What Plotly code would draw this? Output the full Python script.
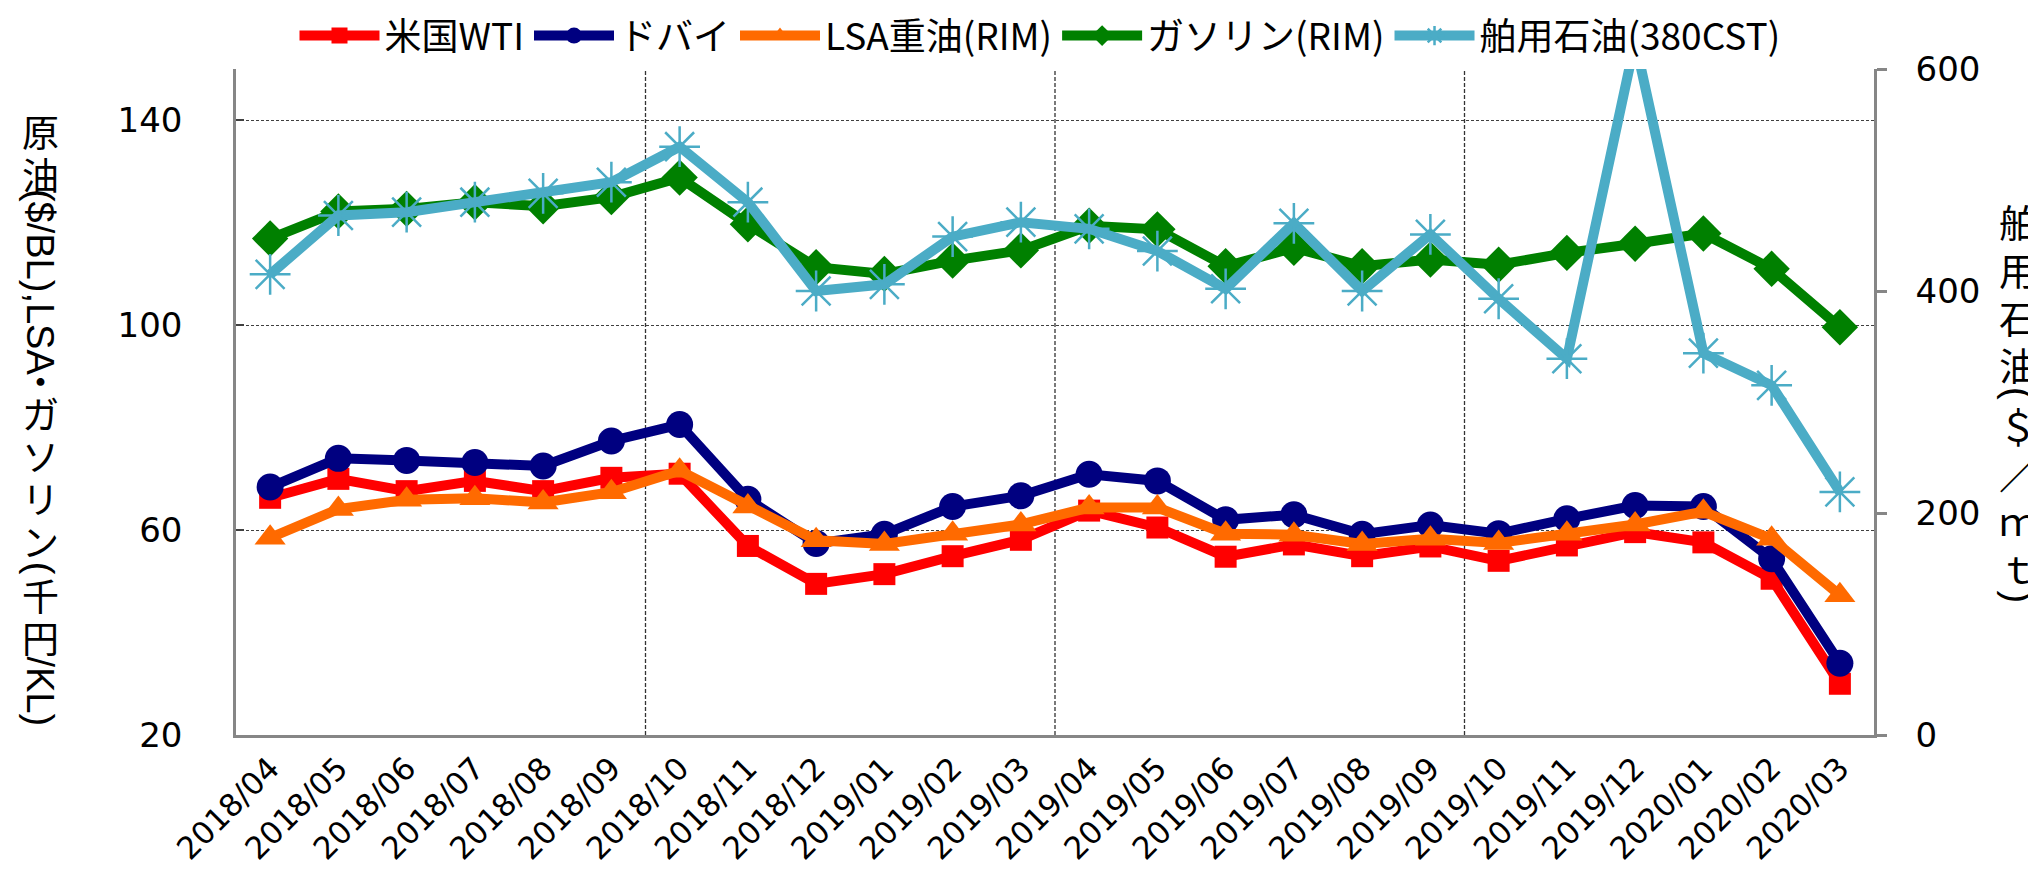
import plotly.graph_objects as go

# ---------------- data ----------------
months = ["2018/04", "2018/05", "2018/06", "2018/07", "2018/08", "2018/09",
          "2018/10", "2018/11", "2018/12", "2019/01", "2019/02", "2019/03",
          "2019/04", "2019/05", "2019/06", "2019/07", "2019/08", "2019/09",
          "2019/10", "2019/11", "2019/12", "2020/01", "2020/02", "2020/03"]

wti = [66.3, 70.0, 67.6, 69.6, 67.6, 70.2, 71.0, 56.9, 49.5, 51.4, 54.9, 58.1,
       63.8, 60.5, 54.8, 57.2, 54.9, 56.8, 54.0, 57.0, 59.6, 57.6, 50.5, 30.0]
dubai = [68.4, 74.0, 73.6, 73.2, 72.5, 77.4, 80.6, 66.0, 57.4, 59.2, 64.6, 66.7,
         70.9, 69.6, 62.0, 63.0, 59.2, 61.0, 59.3, 62.2, 64.8, 64.6, 54.4, 34.0]
lsa = [58.5, 64.1, 65.9, 66.2, 65.4, 67.4, 71.6, 64.6, 58.0, 57.3, 59.3, 61.1,
       64.4, 64.4, 59.3, 59.1, 57.3, 58.3, 57.5, 59.3, 61.1, 63.6, 58.3, 47.3]
gasoline = [116.9, 122.2, 122.7, 124.0, 123.2, 125.0, 128.8, 119.7, 111.3, 110.0,
            112.6, 114.6, 119.4, 118.7, 111.5, 115.1, 111.5, 112.8, 111.8, 114.1,
            115.9, 117.9, 111.0, 99.6]
marine = [415, 468, 471, 480, 488, 498, 530, 480, 400, 406, 449, 462,
          456, 436, 402, 461, 400, 451, 393, 339, 625, 344, 315, 219]

names = ["米国WTI", "ドバイ", "LSA重油(RIM)", "ガソリン(RIM)", "舶用石油(380CST)"]
y_ticks_left = [20, 60, 100, 140]
y_ticks_right = [0, 200, 400, 600]
# vertical axis titles: (text, rotated?) segments, read top to bottom
left_title = [("原", False), ("油", False), ("($/BL),LSA", True), ("・", False),
              ("ガ", False), ("ソ", False), ("リ", False), ("ン", False),
              ("(", True), ("千", False), ("円", False), ("/KL)", True)]
right_title = [("舶", False), ("用", False), ("石", False), ("油", False), ("(", True),
               ("＄", False), ("／", False), ("ｍ", False), ("ｔ", False), (")", True)]

# ---------------- layout constants ----------------
W, H = 2036, 869
PL, PR, PT, PB = 228, 1866, 61, 727
PW, PH = PR - PL, PB - PT

LAT = "Liberation Sans Narrow, Noto Sans CJK JP, sans-serif"
CJK = "Noto Sans CJK JP, sans-serif"
NARROW = "Liberation Sans Narrow, Liberation Sans, sans-serif"
TICKF = "DejaVu Sans, sans-serif"

fig = go.Figure()

styles = [
    dict(color="#FF0000", symbol="square", size=22),
    dict(color="#000080", symbol="circle", size=27),
    dict(color="#FF6A00", symbol="triangle-up", size=27),
    dict(color="#008000", symbol="diamond", size=28),
]
xs = list(range(len(months)))
for name, vals, st in zip(names[:4], [wti, dubai, lsa, gasoline], styles):
    fig.add_trace(go.Scatter(
        x=xs, y=vals, name=name, mode="lines+markers",
        line=dict(color=st["color"], width=10),
        marker=dict(symbol=st["symbol"], size=st["size"], color=st["color"]),
        yaxis="y"))

fig.add_trace(go.Scatter(
    x=xs, y=marine, name=names[4], mode="lines+markers",
    line=dict(color="#4BACC6", width=10),
    marker=dict(symbol="asterisk-open", size=34, color="#4BACC6",
                line=dict(color="#4BACC6", width=2.5)),
    yaxis="y2"))

# vertical dashed gridlines at category boundaries every 6 months
shapes = []
for i in range(6, len(months), 6):
    shapes.append(dict(type="line", xref="x", yref="paper", x0=i - 0.5, x1=i - 0.5,
                       y0=0, y1=1, line=dict(color="#333333", width=1.3, dash="4px,2px"),
                       layer="below"))

NARROW_W = {"(": 0.30, ")": 0.30, "$": 0.50, "/": 0.27, "B": 0.60, "L": 0.50,
            ",": 0.27, "S": 0.60, "A": 0.60, "K": 0.60}


def px_to_paper_y(py):
    return (PB - py) / PH


def vertical_text(segs, x_center_px, y_top_px, y_bot_px, size, lat_size):
    weights = []
    for t, rot in segs:
        if rot:
            weights.append(sum(NARROW_W.get(c, 0.55) for c in t) * lat_size / size)
        elif t == "・":
            weights.append(0.6)
        else:
            weights.append(1.12)
    unit = (y_bot_px - y_top_px) / sum(weights)
    anns = []
    cur = y_top_px
    for (t, rot), w in zip(segs, weights):
        yc = cur + w * unit / 2
        cur += w * unit
        anns.append(dict(
            text=t, showarrow=False, xref="paper", yref="paper",
            x=(x_center_px - PL) / PW, y=px_to_paper_y(yc),
            xanchor="center", yanchor="middle", borderpad=0,
            textangle=90 if rot else 0,
            font=dict(family=NARROW if rot else CJK, size=lat_size if rot else size,
                      color="#000000")))
    return anns


annotations = []
annotations += vertical_text(left_title, 32, 102, 716, 37, 38)
annotations += vertical_text(right_title, 2010, 189, 596, 38, 38)

fig.update_layout(
    width=W, height=H,
    margin=dict(l=PL, r=W - PR, t=PT, b=H - PB, pad=0),
    paper_bgcolor="white", plot_bgcolor="white",
    showlegend=True,
    legend=dict(orientation="h", xref="container", yref="container",
                x=1032 / W, xanchor="center",
                y=1 - 28 / H, yanchor="middle",
                font=dict(family=LAT, size=37, color="#000000"),
                bgcolor="rgba(0,0,0,0)", itemwidth=80),
    xaxis=dict(range=[-0.5, len(months) - 0.5], tickmode="array", tickvals=xs,
               ticktext=months, tickangle=-45, showgrid=False, zeroline=False,
               showline=True, linecolor="#868686", linewidth=2.5, ticks="",
               tickfont=dict(family=TICKF, size=31, color="#000000"),
               automargin=False),
    yaxis=dict(range=[20, 150], tickvals=y_ticks_left, showgrid=True,
               gridcolor="#404040", gridwidth=1.3, griddash="3px,2px",
               zeroline=False, showline=True, linecolor="#868686", linewidth=2.5,
               ticks="inside", ticklen=8, tickcolor="#404040", tickwidth=2,
               tickfont=dict(family=TICKF, size=34, color="#000000"),
               ticklabelstandoff=44, automargin=False),
    yaxis2=dict(range=[0, 600], tickvals=y_ticks_right, overlaying="y", side="right",
                showgrid=False, zeroline=False, showline=True, linecolor="#868686",
                linewidth=2.5, ticks="outside", ticklen=10, tickcolor="#868686",
                tickwidth=2.5, tickfont=dict(family=TICKF, size=34, color="#000000"),
                ticklabelstandoff=22, automargin=False),
    shapes=shapes,
    annotations=annotations,
)

fig.write_html("out.html")
